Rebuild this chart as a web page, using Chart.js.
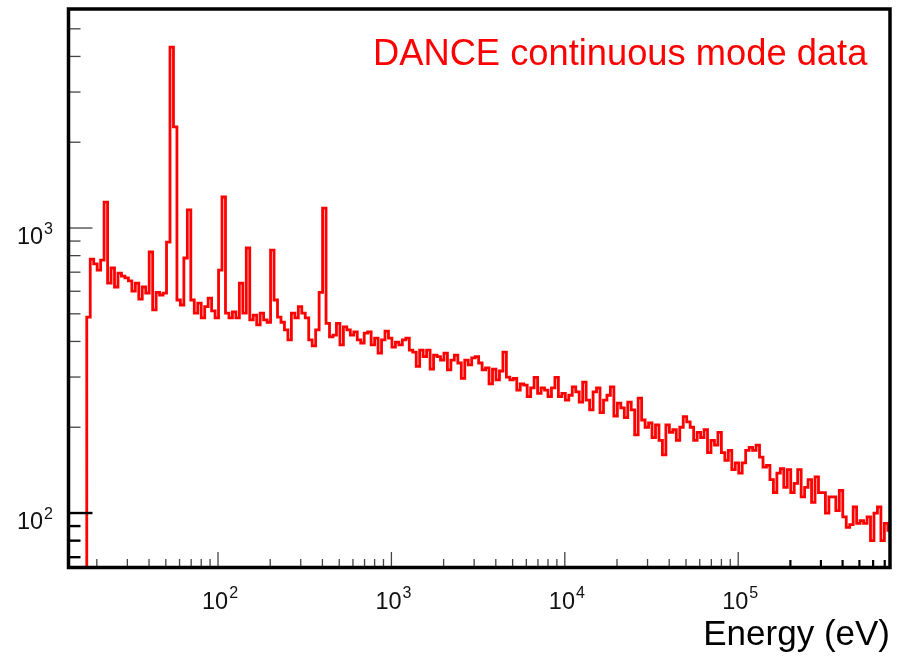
<!DOCTYPE html>
<html><head><meta charset="utf-8">
<script src="https://cdn.jsdelivr.net/npm/chart.js@4/dist/chart.umd.min.js"></script>
<style>html,body{margin:0;padding:0;background:#fff;overflow:hidden}canvas{display:block}</style>
</head><body>
<canvas id="c" width="906" height="668"></canvas>
<script>
// ---- histogram binning (log-uniform energy bins) ----
const binStartEV = 17.5;
const binsPerDecade = 50;

// ---- counts per bin ----
const countsA = [487,778,748,712,772,1233,641,724,621,695,678,668,652,601,641,563,621,591,824,516,
  595,582,591,893,4315,2263,559,537,785,1157,559,503,545,484,530,568,512,484,712,1285,
  503,484,508,484,641,503,851,476,495,457];
const countsB = [503,476,467,837,559,487,467,439,405,503,484,530,503,484,405,386,439,595,1175,463,
  415,421,463,389,450,439,421,432,405,395,428,432,389,411,364,405,435,411,382,398,
  389,405,411,373,367,327,373,354,373,320];
const countsC = [358,354,344,364,318,344,358,336,297,344,331,350,354,336,318,323,284,320,293,315,
  367,300,293,297,270,284,281,256,275,299,263,275,270,256,275,299,256,263,249,259,
  277,266,245,288,249,230,266,275,225,249];
const countsD = [259,277,219,243,234,216,245,230,188,253,212,200,207,184,204,180,160,204,192,196,
  180,200,218,209,200,180,192,184,196,163,180,173,192,163,153,166,142,150,138,150,
  166,170,166,173,157,145,147,131,118,138];
const countsE = [143,123,142,118,127,142,114,123,131,109,134,118,118,100,114,114,102,120,97,89,
  91,105,92,94,92,97,80,100,105,80,92,87];

// ---- axes ----
const xRange = [13.73, 7.507e5];
const yRange = [64.4, 5868];
const xDecadeExponents = [2, 3, 4, 5];
const yDecadeExponents = [2, 3];
const titleText = 'DANCE continuous mode data';
const xAxisTitle = 'Energy (eV)';
const underflow = 1;

const counts = [].concat(countsA, countsB, countsC, countsD, countsE);
const edgeOf = i => binStartEV * Math.pow(10, i / binsPerDecade);
const pts = [{x: edgeOf(0), y: underflow}];
counts.forEach((c, i) => pts.push({x: edgeOf(i), y: c}));
pts.push({x: edgeOf(counts.length), y: counts[counts.length - 1]});
pts.push({x: edgeOf(counts.length), y: underflow});

const FONT = '"Liberation Sans", Arial, Helvetica, sans-serif';

const rootStyle = {
  id: 'rootStyle',
  afterDatasetsDraw(chart) {
    const ctx = chart.ctx, a = chart.chartArea;
    const xs = chart.scales.x, ys = chart.scales.y;
    ctx.save();
    const seg = (x1, y1, x2, y2) => { ctx.beginPath(); ctx.moveTo(x1, y1); ctx.lineTo(x2, y2); ctx.stroke(); };
    // x ticks (inside, upward)
    for (let d = 1; d <= 6; d++) for (let m = 1; m <= 9; m++) {
      const v = m * Math.pow(10, d);
      if (v < xs.min || v > xs.max) continue;
      const px = xs.getPixelForValue(v);
      const major = m === 1, bold = v > 1e5;
      ctx.strokeStyle = bold ? '#000' : '#444';
      ctx.lineWidth = bold ? 2.2 : 1.3;
      seg(px, a.bottom, px, a.bottom - (major ? 15.5 : (bold ? 7.5 : 8.5)));
    }
    // y ticks (inside, rightward)
    for (let d = 1; d <= 4; d++) for (let m = 1; m <= 9; m++) {
      const v = m * Math.pow(10, d);
      if (v < ys.min || v > ys.max) continue;
      const py = ys.getPixelForValue(v);
      const major = m === 1, bold = v <= 100;
      ctx.strokeStyle = bold ? '#000' : '#444';
      ctx.lineWidth = bold ? 2.4 : 1.3;
      seg(a.left, py, a.left + (major ? 24 : 12), py);
    }
    // frame
    ctx.strokeStyle = '#000';
    ctx.lineWidth = 3.5;
    ctx.strokeRect(a.left, a.top, a.right - a.left, a.bottom - a.top);
    // tick labels
    ctx.fillStyle = '#111';
    ctx.textBaseline = 'alphabetic';
    ctx.textAlign = 'left';
    const big = '23.5px ' + FONT, small = '16px ' + FONT;
    xDecadeExponents.forEach(e => {
      const px = xs.getPixelForValue(Math.pow(10, e));
      ctx.font = big;
      const w = ctx.measureText('10').width;
      ctx.fillText('10', px - 16, 609);
      ctx.font = small;
      ctx.fillText(String(e), px - 16 + w + 1, 598);
    });
    yDecadeExponents.forEach(e => {
      const py = ys.getPixelForValue(Math.pow(10, e));
      ctx.font = small;
      const we = ctx.measureText(String(e)).width;
      ctx.font = big;
      const w = ctx.measureText('10').width;
      const x0 = 53 - we - 1 - w;
      ctx.fillText('10', x0, py + 16);
      ctx.font = small;
      ctx.fillText(String(e), x0 + w + 1, py + 5.5);
    });
    // in-plot label
    ctx.font = '36.3px ' + FONT;
    ctx.fillStyle = '#ff0000';
    ctx.fillText(titleText, 373, 65);
    // axis title
    ctx.font = '35px ' + FONT;
    ctx.fillStyle = '#000';
    ctx.textAlign = 'right';
    ctx.fillText(xAxisTitle, 890, 645);
    ctx.restore();
  }
};

new Chart(document.getElementById('c').getContext('2d'), {
  type: 'line',
  data: { datasets: [{
    data: pts, borderColor: '#ff0000', borderWidth: 2.8, pointRadius: 0,
    stepped: true, fill: false, tension: 0, clip: 0
  }]},
  options: {
    responsive: false, animation: false, devicePixelRatio: 1,
    layout: { padding: { left: 68.5, right: 16, top: 9, bottom: 100.5 } },
    scales: {
      x: { type: 'logarithmic', min: xRange[0], max: xRange[1], display: false },
      y: { type: 'logarithmic', min: yRange[0], max: yRange[1], display: false }
    },
    plugins: { legend: { display: false }, tooltip: { enabled: false } }
  },
  plugins: [rootStyle]
});
</script>
</body></html>
